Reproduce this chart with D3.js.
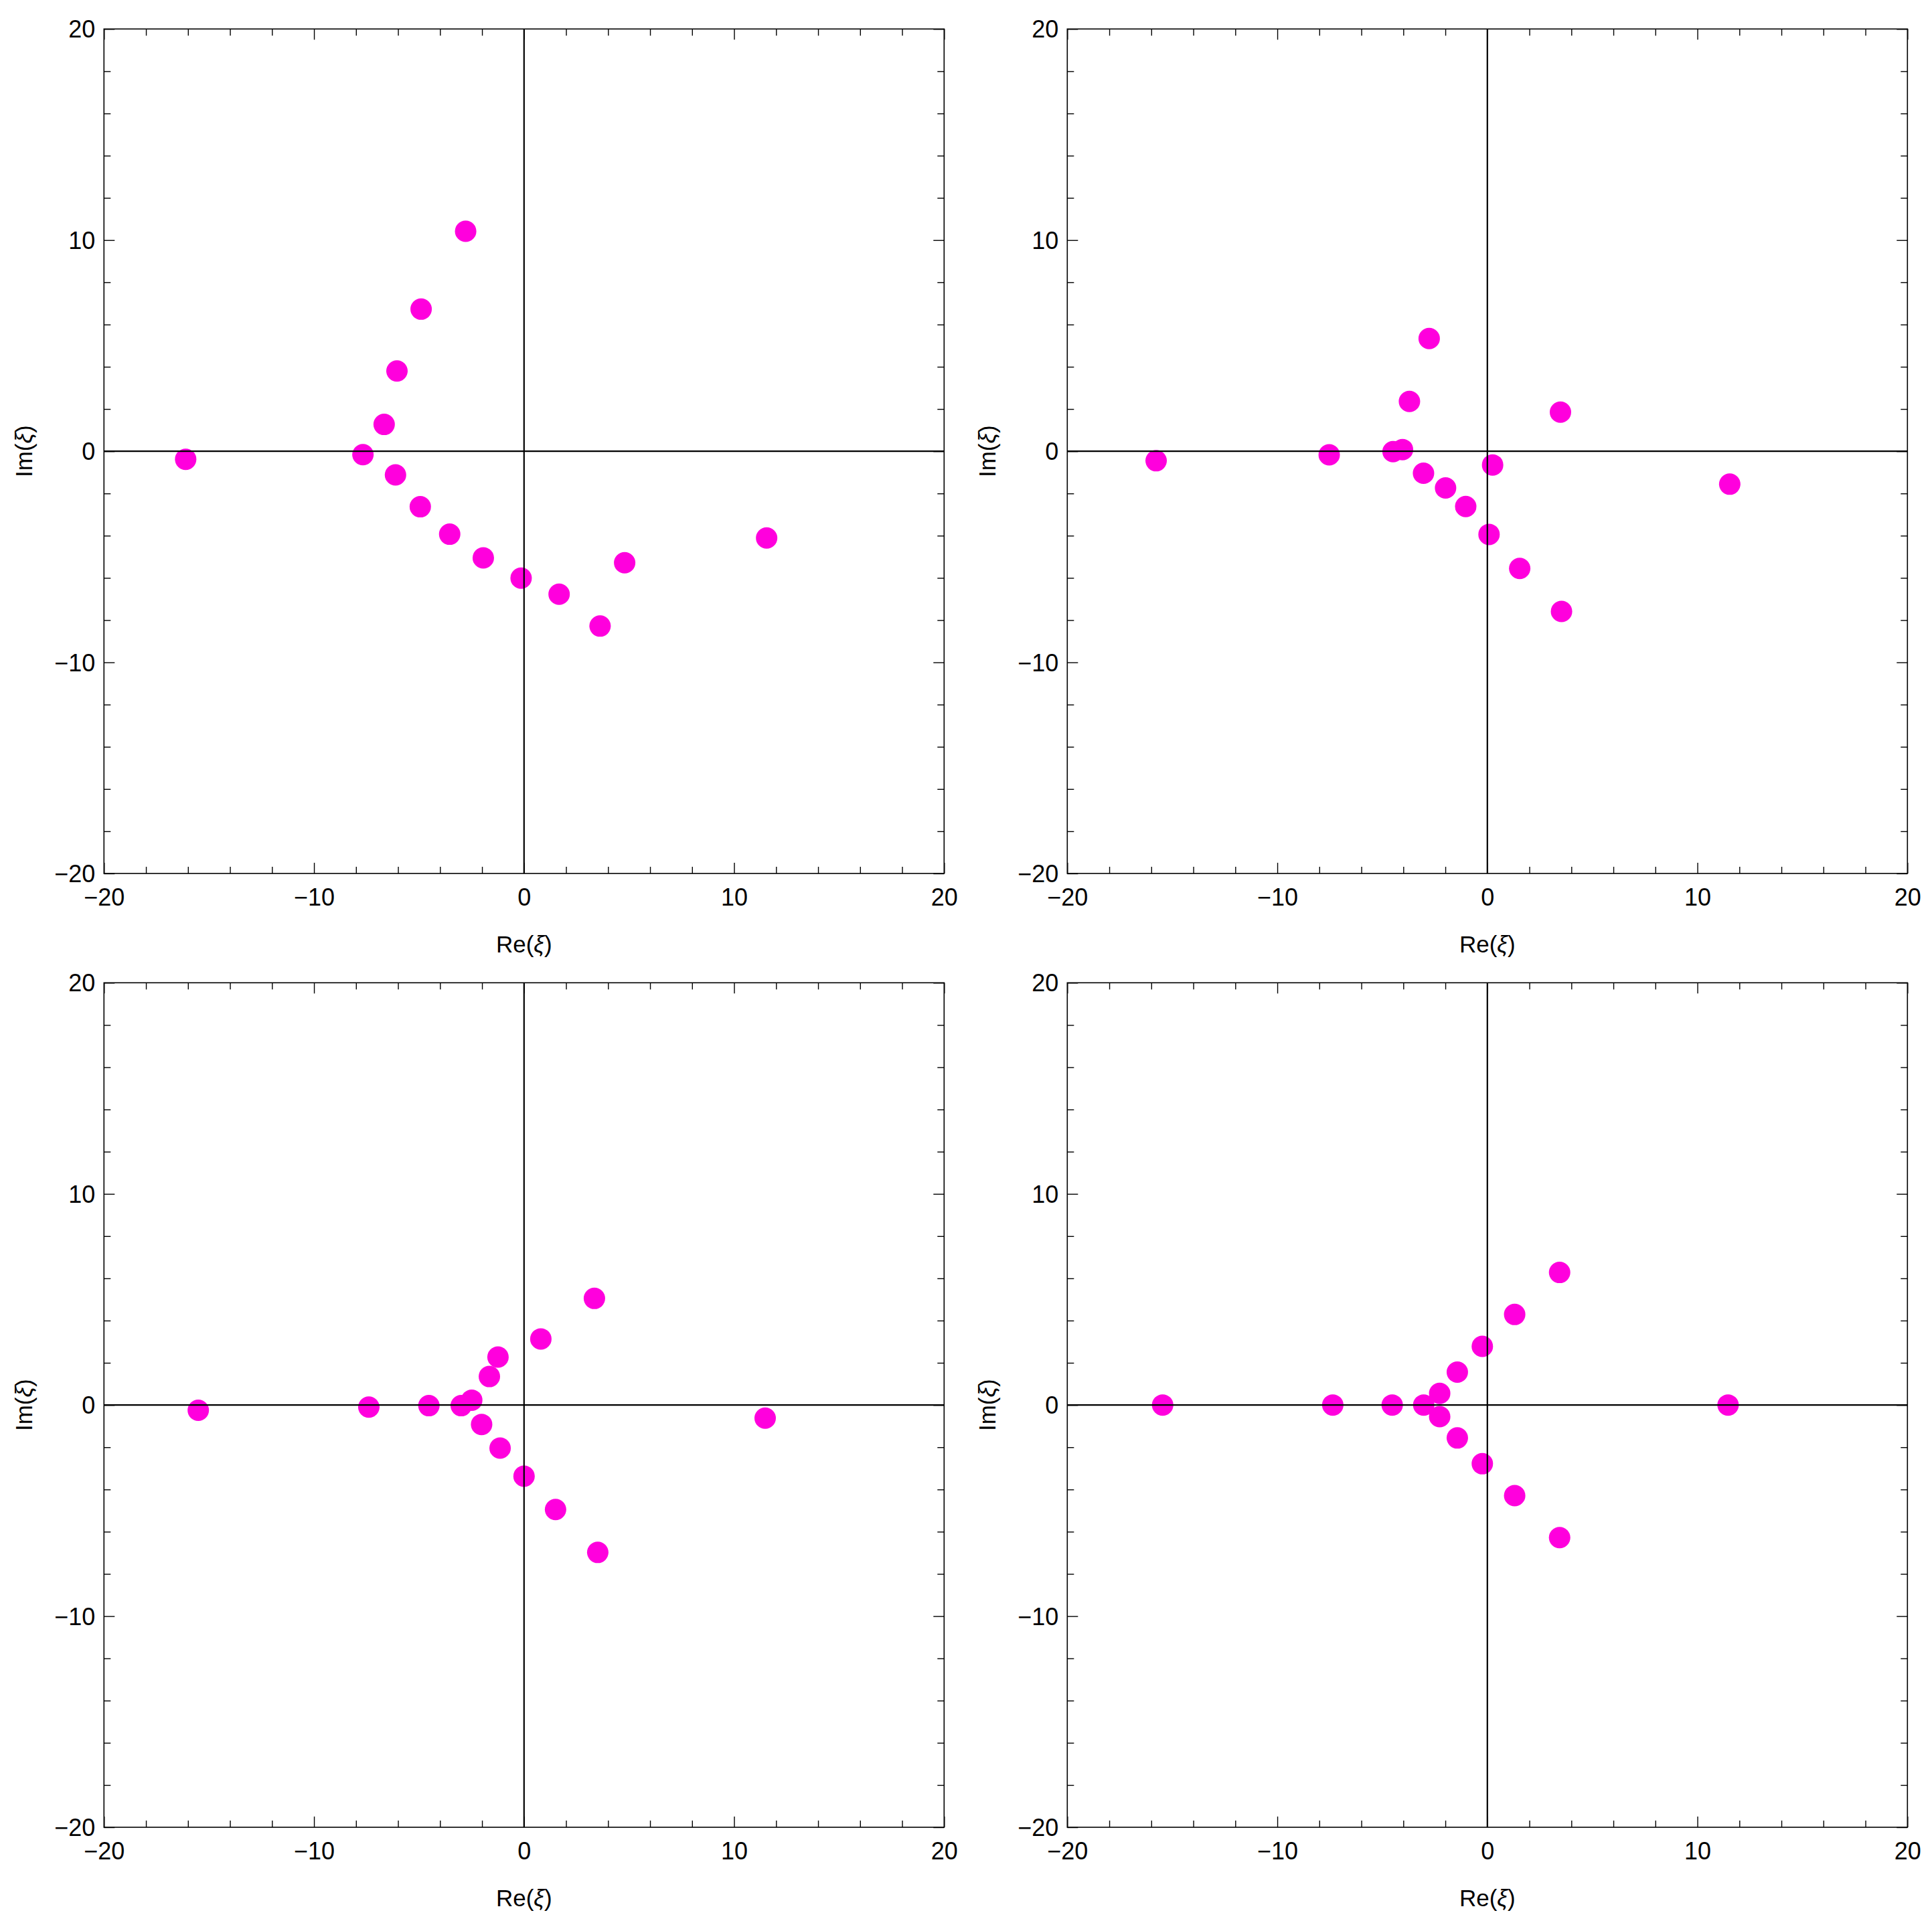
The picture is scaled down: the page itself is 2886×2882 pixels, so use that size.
<!DOCTYPE html>
<html>
<head>
<meta charset="utf-8">
<script src="https://cdn.jsdelivr.net/npm/d3@7"></script>
<style>
  html, body { margin: 0; padding: 0; background: #fff; }
  svg { display: block; }
  text { font-family: "Liberation Sans", Arial, sans-serif; fill: #000; }
</style>
</head>
<body>
<svg id="chart" width="2886" height="2882"></svg>
<script>
// ---------- data ----------
const domainRe = [-20, 20];
const domainIm = [-20, 20];
const majorTicks = [-20, -10, 0, 10, 20];
const minorTicks = [-18, -16, -14, -12, -8, -6, -4, -2, 2, 4, 6, 8, 12, 14, 16, 18];
const tickLabels = ["\u221220", "\u221210", "0", "10", "20"];
const xLabel = "Re";
const yLabel = "Im";
const symbol = "\u03BE";

const re1 = [-2.78, -4.90, -6.05, -6.66, -7.67, -16.11, -6.12, -4.94, -3.54, -1.94, -0.14, 1.67, 3.62, 4.79, 11.55];
const im1 = [10.42, 6.73, 3.80, 1.27, -0.16, -0.38, -1.12, -2.63, -3.93, -5.05, -6.01, -6.77, -8.28, -5.28, -4.11];

const re2 = [-2.77, -3.71, 3.48, -15.77, -7.53, -4.49, -4.04, 0.25, -3.04, -1.99, -1.03, 0.08, 1.54, 3.53, 11.54];
const im2 = [5.34, 2.36, 1.85, -0.45, -0.17, -0.02, 0.08, -0.65, -1.04, -1.74, -2.62, -3.94, -5.55, -7.59, -1.56];

const re3 = [3.35, 0.80, -1.24, -1.65, -2.49, -2.99, -4.53, -7.39, -15.51, -2.02, -1.14, 0.00, 1.50, 3.51, 11.48];
const im3 = [5.05, 3.13, 2.27, 1.35, 0.23, -0.03, -0.03, -0.10, -0.25, -0.92, -2.04, -3.37, -4.95, -6.98, -0.62];

const re4 = [3.44, 1.30, -0.24, -1.43, -2.27, -3.03, -4.53, -7.36, -15.46, 11.46, -2.27, -1.43, -0.24, 1.30, 3.44];
const im4 = [6.28, 4.29, 2.78, 1.56, 0.55, 0.00, 0.00, 0.00, 0.00, 0.00, -0.55, -1.56, -2.78, -4.29, -6.28];

const panelsRe = [re1, re2, re3, re4];
const panelsIm = [im1, im2, im3, im4];

// ---------- layout ----------
const svg = d3.select("#chart");
const plotW = 1255, plotH = 1261.7;
const origins = [[155.3, 43.3], [1594.3, 43.3], [155.3, 1468.3], [1594.3, 1468.3]];
const pointColor = "#ff00dd";

origins.forEach((o, i) => {
  const [left, top] = o;
  const right = left + plotW, bottom = top + plotH;
  const x = d3.scaleLinear().domain(domainRe).range([left, right]);
  const y = d3.scaleLinear().domain(domainIm).range([bottom, top]);
  const g = svg.append("g");

  const data = panelsRe[i].map((r, k) => ({ re: r, im: panelsIm[i][k] }));

  // points
  g.append("g").selectAll("circle").data(data).join("circle")
    .attr("cx", d => x(d.re))
    .attr("cy", d => y(d.im))
    .attr("r", 16)
    .attr("fill", pointColor);

  // axes through origin
  g.append("line").attr("x1", left).attr("x2", right)
    .attr("y1", y(0)).attr("y2", y(0))
    .attr("stroke", "#000").attr("stroke-width", 2.2);
  g.append("line").attr("x1", x(0)).attr("x2", x(0))
    .attr("y1", top).attr("y2", bottom)
    .attr("stroke", "#000").attr("stroke-width", 2.2);

  const fmt = v => tickLabels[majorTicks.indexOf(v)];

  function styleAxis(sel) {
    sel.select(".domain").remove();
    sel.selectAll(".tick line").attr("stroke", "#000").attr("stroke-width", 1.4);
  }

  // bottom major (labelled)
  const gb = g.append("g").attr("transform", `translate(0,${bottom})`)
    .call(d3.axisBottom(x).tickValues(majorTicks).tickSize(-16).tickSizeOuter(0).tickFormat(fmt));
  styleAxis(gb);
  gb.selectAll(".tick text").attr("y", 48).attr("dy", null)
    .attr("font-size", 36).attr("font-family", null);
  // bottom minor
  styleAxis(g.append("g").attr("transform", `translate(0,${bottom})`)
    .call(d3.axisBottom(x).tickValues(minorTicks).tickSize(-10).tickSizeOuter(0).tickFormat("")));
  // top
  styleAxis(g.append("g").attr("transform", `translate(0,${top})`)
    .call(d3.axisTop(x).tickValues(majorTicks).tickSize(-16).tickSizeOuter(0).tickFormat("")));
  styleAxis(g.append("g").attr("transform", `translate(0,${top})`)
    .call(d3.axisTop(x).tickValues(minorTicks).tickSize(-10).tickSizeOuter(0).tickFormat("")));

  // left major (labelled)
  const gl = g.append("g").attr("transform", `translate(${left},0)`)
    .call(d3.axisLeft(y).tickValues(majorTicks).tickSize(-16).tickSizeOuter(0).tickFormat(fmt));
  styleAxis(gl);
  gl.selectAll(".tick text").attr("x", -13).attr("dy", 12.5)
    .attr("font-size", 36).attr("font-family", null);
  styleAxis(g.append("g").attr("transform", `translate(${left},0)`)
    .call(d3.axisLeft(y).tickValues(minorTicks).tickSize(-10).tickSizeOuter(0).tickFormat("")));
  // right
  styleAxis(g.append("g").attr("transform", `translate(${right},0)`)
    .call(d3.axisRight(y).tickValues(majorTicks).tickSize(-16).tickSizeOuter(0).tickFormat("")));
  styleAxis(g.append("g").attr("transform", `translate(${right},0)`)
    .call(d3.axisRight(y).tickValues(minorTicks).tickSize(-10).tickSizeOuter(0).tickFormat("")));

  // frame
  g.append("rect").attr("x", left).attr("y", top)
    .attr("width", plotW).attr("height", plotH)
    .attr("fill", "none").attr("stroke", "#000").attr("stroke-width", 1.6);

  // axis labels
  const xl = g.append("text")
    .attr("x", (left + right) / 2).attr("y", bottom + 118)
    .attr("text-anchor", "middle").attr("font-size", 35);
  xl.append("tspan").text(xLabel + "(");
  xl.append("tspan").attr("font-style", "italic").text(symbol);
  xl.append("tspan").text(")");

  const cy = (top + bottom) / 2;
  const yl = g.append("text")
    .attr("transform", `translate(${left - 107},${cy}) rotate(-90)`)
    .attr("text-anchor", "middle").attr("font-size", 35);
  yl.append("tspan").text(yLabel + "(");
  yl.append("tspan").attr("font-style", "italic").text(symbol);
  yl.append("tspan").text(")");
});
</script>
</body>
</html>
